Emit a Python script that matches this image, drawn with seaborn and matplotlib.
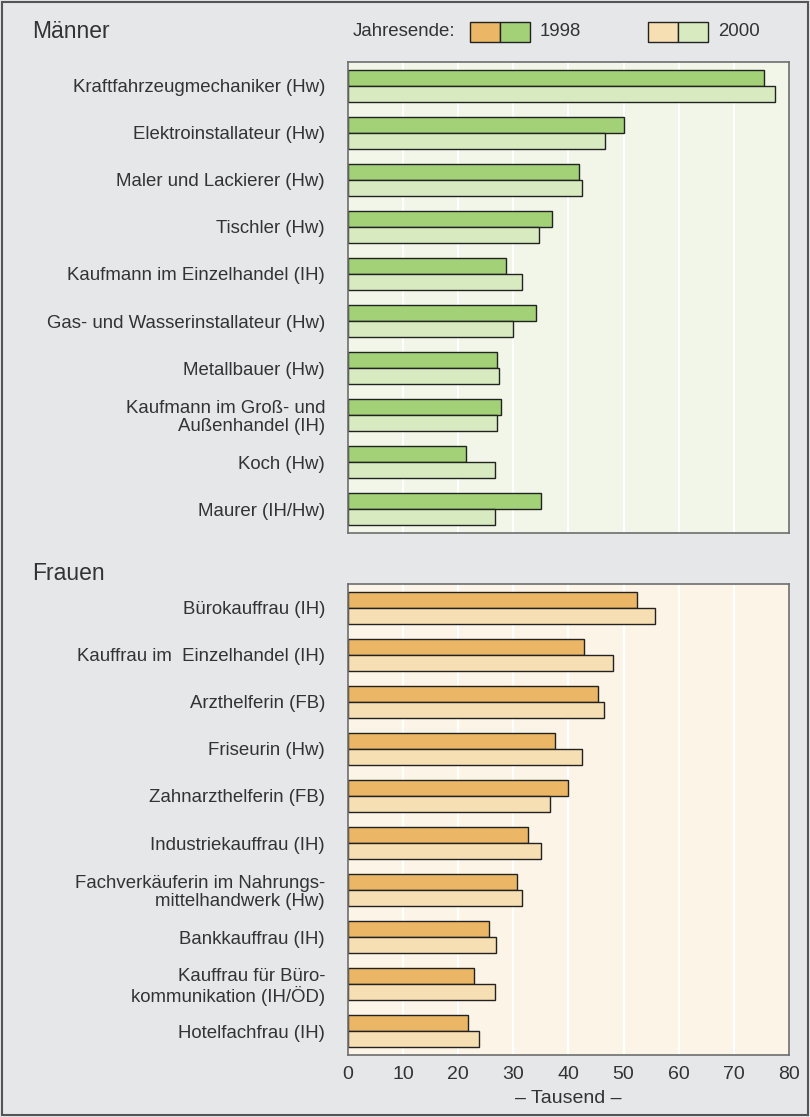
import pandas as pd
import matplotlib.pyplot as plt
import matplotlib.patches as mpatches
import seaborn as sns

# Ausbildungsberufe, Bestand zum Jahresende (Tausend)
maenner_berufe = ['Kraftfahrzeugmechaniker (Hw)', 'Elektroinstallateur (Hw)',
                  'Maler und Lackierer (Hw)', 'Tischler (Hw)',
                  'Kaufmann im Einzelhandel (IH)', 'Gas- und Wasserinstallateur (Hw)',
                  'Metallbauer (Hw)', 'Kaufmann im Groß- und\nAußenhandel (IH)',
                  'Koch (Hw)', 'Maurer (IH/Hw)']
maenner_1998 = [75.5, 50.1, 41.9, 37.0, 28.6, 34.2, 27.1, 27.7, 21.4, 35.0]
maenner_2000 = [77.4, 46.6, 42.4, 34.7, 31.6, 29.9, 27.4, 27.1, 26.7, 26.6]

frauen_berufe = ['Bürokauffrau (IH)', 'Kauffrau im  Einzelhandel (IH)',
                 'Arzthelferin (FB)', 'Friseurin (Hw)', 'Zahnarzthelferin (FB)',
                 'Industriekauffrau (IH)', 'Fachverkäuferin im Nahrungs-\nmittelhandwerk (Hw)',
                 'Bankkauffrau (IH)', 'Kauffrau für Büro-\nkommunikation (IH/ÖD)',
                 'Hotelfachfrau (IH)']
frauen_1998 = [52.5, 42.8, 45.3, 37.6, 39.9, 32.7, 30.7, 25.5, 22.9, 21.8]
frauen_2000 = [55.7, 48.1, 46.5, 42.5, 36.7, 35.0, 31.6, 26.9, 26.7, 23.7]

jahre = ['1998', '2000']
x_ticks = [0, 10, 20, 30, 40, 50, 60, 70, 80]

GREEN = ['#A3D177', '#D8EBC0']
ORANGE = ['#EBB766', '#F7DFB4']
BG = '#E6E7E9'
TEXT = '#333333'
FS = 13.4

sns.set_style('white')
plt.rcParams['font.family'] = ['Liberation Sans', 'DejaVu Sans']


def long_df(berufe, v98, v00):
    df = pd.DataFrame({'beruf': berufe, '1998': v98, '2000': v00})
    return df.melt(id_vars='beruf', var_name='jahr', value_name='wert')


fig = plt.figure(figsize=(8.1, 11.17), dpi=100, facecolor=BG)
ax_m = fig.add_axes([0.4296, 0.5228, 0.5444, 0.4217])
ax_f = fig.add_axes([0.4296, 0.0555, 0.5444, 0.4217])

panels = [(ax_m, long_df(maenner_berufe, maenner_1998, maenner_2000), GREEN, '#F1F6E8'),
          (ax_f, long_df(frauen_berufe, frauen_1998, frauen_2000), ORANGE, '#FCF4E6')]

for ax, df, pal, face in panels:
    ax.set_facecolor(face)
    for xv in x_ticks[1:-1]:
        ax.axvline(xv, color='white', lw=1.6, zorder=0)
    sns.barplot(data=df, y='beruf', x='wert', hue='jahr', hue_order=jahre,
                orient='h', palette=pal, saturation=1, width=0.68, gap=0,
                edgecolor='#222222', linewidth=1, legend=False, ax=ax, zorder=2)
    ax.set_xlim(0, 80)
    ax.set_ylim(9.5, -0.5)
    ax.set_xlabel('')
    ax.set_ylabel('')
    ax.tick_params(axis='y', length=0, pad=16.5, labelsize=FS, colors=TEXT)
    ax.tick_params(axis='x', length=0, pad=8, labelsize=14, colors=TEXT)
    for lbl in ax.get_yticklabels():
        lbl.set_linespacing(1.05)
    for s in ax.spines.values():
        s.set_color('#6E6E6E')
        s.set_linewidth(1.2)
    ax.set_axisbelow(True)

ax_m.set_xticks(x_ticks)
ax_m.set_xticklabels([])
ax_f.set_xticks(x_ticks)
ax_f.set_xticklabels([str(v) for v in x_ticks])
ax_f.set_xlabel('– Tausend –', fontsize=14, color=TEXT, labelpad=5)

# Panel titles
fig.text(32 / 810, 1 - 32 / 1117, 'Männer', fontsize=16.5, color=TEXT, va='center')
fig.text(32 / 810, 1 - 573 / 1117, 'Frauen', fontsize=16.5, color=TEXT, va='center')

# Legend
fig.text(353 / 810, 1 - 32 / 1117, 'Jahresende:', fontsize=FS, color=TEXT, va='center')
for x0, cols, lab in [(470, (ORANGE[0], GREEN[0]), jahre[0]),
                      (648, (ORANGE[1], GREEN[1]), jahre[1])]:
    for i, c in enumerate(cols):
        fig.patches.append(mpatches.Rectangle(((x0 + 30 * i) / 810, 1 - 42 / 1117),
                                              30 / 810, 20 / 1117, transform=fig.transFigure,
                                              facecolor=c, edgecolor='#222222', lw=1))
    fig.text((x0 + 70) / 810, 1 - 32 / 1117, lab, fontsize=FS, color=TEXT, va='center')

# Outer frame
fig.patches.append(mpatches.Rectangle((0.002, 0.002), 0.996, 0.996, transform=fig.transFigure,
                                      fill=False, edgecolor='#555555', lw=1.5))

plt.savefig('out.png', dpi=100, facecolor=BG)
